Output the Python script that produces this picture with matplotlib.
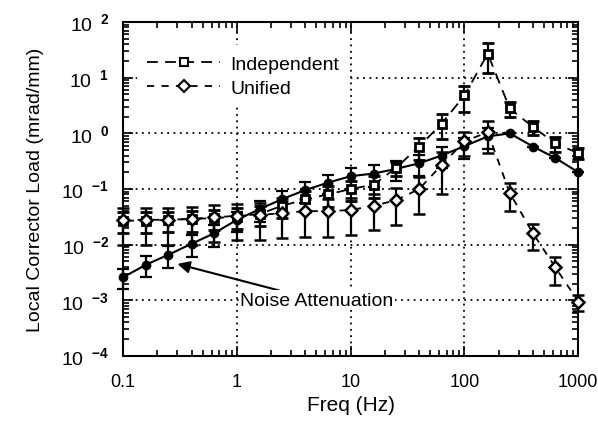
import numpy as np
import matplotlib
matplotlib.use('Agg')
import matplotlib.pyplot as plt
from matplotlib.lines import Line2D
from matplotlib.ticker import FixedLocator, LogLocator, NullFormatter

plt.rcParams['font.family'] = ['Liberation Sans', 'DejaVu Sans']
plt.rcParams['mathtext.fontset'] = 'custom'
plt.rcParams['mathtext.rm'] = 'Liberation Sans'
plt.rcParams['mathtext.bf'] = 'Liberation Sans:bold'

# frequencies (Hz), 5 points per decade
freq = [0.1, 0.16, 0.25, 0.4, 0.63, 1, 1.6, 2.5, 4, 6.3, 10, 16, 25, 40, 63,
        100, 160, 250, 400, 630, 1000]

# noise attenuation curve (filled circles, solid)
noise = [0.0026, 0.0044, 0.0066, 0.0104, 0.016, 0.028, 0.044, 0.066, 0.096, 0.13,
         0.17, 0.19, 0.23, 0.29, 0.40, 0.59, 0.88, 1.0, 0.58, 0.36, 0.2]
noise_err = [0.001, 0.0018, 0.0028, 0.0045, 0.007, 0.011, 0.018, 0.027, 0.04, 0.05,
             0.07, 0.08, 0.09, 0.12, 0.16, 0.25, 0.35, 0, 0, 0, 0]

# independent (squares, dashed)
indep = [0.027, 0.027, 0.028, 0.029, 0.03, 0.032, 0.036, 0.05, 0.065, 0.08, 0.1,
         0.12, 0.24, 0.58, 1.5, 4.8, 27, 2.8, 1.3, 0.66, 0.44]
indep_err = [0.011, 0.011, 0.011, 0.012, 0.012, 0.013, 0.014, 0.02, 0.026, 0.032,
             0.04, 0.05, 0.07, 0.25, 0.7, 2.4, 15, 0.8, 0.35, 0.2, 0.1]

# unified (open diamonds, dashed)
unified = [0.028, 0.028, 0.028, 0.029, 0.031, 0.033, 0.034, 0.037, 0.04, 0.04,
           0.042, 0.05, 0.063, 0.10, 0.27, 0.72, 1.05, 0.085, 0.016, 0.0039, 0.00095]
unified_err = [0.018, 0.018, 0.018, 0.019, 0.02, 0.021, 0.022, 0.024, 0.026, 0.026,
               0.027, 0.032, 0.04, 0.065, 0.19, 0.33, 0.6, 0.045, 0.008, 0.002, 0.0003]

xticks = [0.1, 1, 10, 100, 1000]
xticklabels = ['0.1', '1', '10', '100', '1000']
yexps = [-4, -3, -2, -1, 0, 1, 2]

fig = plt.figure(figsize=(5.98, 4.27), dpi=100)
ax = fig.add_axes([0.206, 0.164, 0.761, 0.782])

eb_kw = dict(color='black', capsize=4, elinewidth=1.6, capthick=1.6, clip_on=False)

ax.errorbar(freq, noise, yerr=noise_err, fmt='o-', ms=6, mfc='black', mec='black',
            lw=1.5, zorder=3, **eb_kw)
ax.errorbar(freq, indep, yerr=indep_err, fmt='s', ls=(0, (6, 4)), ms=6, mfc='white',
            mec='black', mew=2, lw=1.3, zorder=4, **eb_kw)
ax.errorbar(freq, unified, yerr=unified_err, fmt='D', ls=(0, (4, 4)), ms=6, mfc='white',
            mec='black', mew=1.8, lw=1.3, zorder=4, **eb_kw)

ax.set_xscale('log')
ax.set_yscale('log')
ax.set_xlim(0.1, 1000)
ax.set_ylim(1e-4, 1e2)

ax.xaxis.set_major_locator(FixedLocator(xticks))
ax.set_xticklabels(xticklabels)
ax.yaxis.set_major_locator(FixedLocator([10.0 ** e for e in yexps]))
ax.set_yticklabels([r'$\mathregular{10}^{\ \ \mathbf{%d}}$' % e for e in yexps])
ax.xaxis.set_minor_locator(LogLocator(base=10, subs=np.arange(2, 10), numticks=20))
ax.yaxis.set_minor_locator(LogLocator(base=10, subs=np.arange(2, 10), numticks=20))
ax.xaxis.set_minor_formatter(NullFormatter())
ax.yaxis.set_minor_formatter(NullFormatter())

ax.tick_params(which='both', direction='in', top=True, right=True, width=1.2)
ax.tick_params(which='major', length=7)
ax.tick_params(axis='x', which='major', pad=12, labelsize=13)
ax.tick_params(axis='y', which='major', pad=10, labelsize=14)
ax.tick_params(which='minor', length=4)
for s in ax.spines.values():
    s.set_linewidth(1.5)

ax.grid(True, which='major', color='black', ls=(0, (1, 2.5)), lw=1.3)

ax.set_xlabel('Freq (Hz)', fontsize=15, labelpad=4)
ax.set_ylabel('Local Corrector Load (mrad/mm)', fontsize=14, labelpad=12)

ax.annotate('Noise Attenuation', xy=(0.3, 0.0045), xytext=(1.07, 0.001),
            fontsize=14, va='center', ha='left',
            bbox=dict(fc='white', ec='none', pad=1),
            arrowprops=dict(arrowstyle='-|>', color='black', lw=1.5,
                            mutation_scale=18, shrinkA=0, shrinkB=0))

handles = [Line2D([], [], color='black', ls=(0, (6, 4)), lw=1.3, marker='s', ms=6,
                  mfc='white', mec='black', mew=1.5),
           Line2D([], [], color='black', ls=(0, (4, 4)), lw=1.3, marker='D', ms=6,
                  mfc='white', mec='black', mew=1.5)]
leg = ax.legend(handles, ['Independent', 'Unified'], loc='upper left',
                bbox_to_anchor=(0.03, 0.93), frameon=True, fontsize=14,
                handlelength=3.8, handletextpad=0.5, labelspacing=0.35,
                borderaxespad=0, borderpad=0.5, fancybox=False)
leg.get_frame().set_facecolor('white')
leg.get_frame().set_edgecolor('none')
leg.get_frame().set_alpha(1)

fig.savefig('out.png', dpi=100)
